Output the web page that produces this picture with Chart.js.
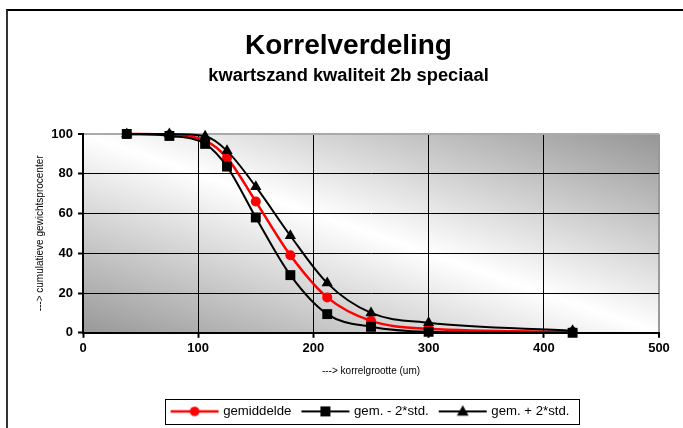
<!DOCTYPE html>
<html lang="nl">
<head>
<meta charset="UTF-8">
<title>Korrelverdeling</title>
<script src="https://cdn.jsdelivr.net/npm/chart.js"></script>
<style>
  body { margin: 0; width: 683px; height: 428px; overflow: hidden; background: #fff; }
  .frame { position: absolute; left: 6px; top: 9px; width: 720px; height: 460px; border-left: 2px solid #333; border-top: 2px solid #000; }
  .box { position: absolute; left: 7px; top: 10px; width: 683px; height: 418px; }
</style>
</head>
<body>
<div class="frame"></div>
<div class="box"><canvas id="chart"></canvas></div>
<script>
// korrelgrootte (um) and cumulative weight percentages
const korrel = [38, 75, 106, 125, 150, 180, 212, 250, 300, 425];
const gemiddelde = [100, 99.5, 96.7, 88, 66, 39, 17.8, 6, 2, 0.5];
const gemMin = [100, 99, 95, 83.6, 58, 29, 9.4, 3, 0.5, 0];
const gemPlus = [100, 100, 98.8, 91.5, 73.5, 48.8, 25, 10, 5, 1];
const xTicks = [0, 100, 200, 300, 400, 500];
const yTicks = [0, 20, 40, 60, 80, 100];
const labels = ['gemiddelde', 'gem. - 2*std.', 'gem. + 2*std.'];

const FONT = "'Liberation Sans', Arial, sans-serif";

function points(vals) {
  return korrel.map((k, i) => ({ x: k, y: vals[i] }));
}

// draw a marker on a 2d context
function marker(g, style, x, y, r, color) {
  g.fillStyle = color;
  g.beginPath();
  if (style === 'circle') {
    g.arc(x, y, r, 0, Math.PI * 2);
  } else if (style === 'rect') {
    g.rect(x - r, y - r, 2 * r, 2 * r);
  } else {
    g.moveTo(x, y - r * 1.1);
    g.lineTo(x + r * 1.05, y + r * 0.75);
    g.lineTo(x - r * 1.05, y + r * 0.75);
    g.closePath();
  }
  g.fill();
}

// small legend swatch: line with marker in the middle
function swatch(color, width, style, r) {
  const c = document.createElement('canvas');
  c.width = 50; c.height = 14;
  const g = c.getContext('2d');
  g.strokeStyle = color; g.lineWidth = width;
  g.beginPath(); g.moveTo(1, 7); g.lineTo(49, 7); g.stroke();
  marker(g, style, 25, 7, r, color);
  return c;
}

const swatches = [
  swatch('#ff0000', 2.5, 'circle', 4.8),
  swatch('#000000', 2, 'rect', 5),
  swatch('#000000', 2, 'triangle', 5.6)
];

const bgPlugin = {
  id: 'plotBg',
  beforeDraw(chart) {
    const { ctx, chartArea: a } = chart;
    const cx = (a.left + a.right) / 2, cy = (a.top + a.bottom) / 2;
    const w = a.right - a.left, h = a.bottom - a.top;
    const len = Math.hypot(w, h);
    const nx = -h / len, ny = w / len;
    const proj = Math.abs((-w / 2) * nx + (h / 2) * ny);
    const grad = ctx.createLinearGradient(cx + proj * nx, cy + proj * ny, cx - proj * nx, cy - proj * ny);
    grad.addColorStop(0, '#989898');
    grad.addColorStop(0.5, '#ffffff');
    grad.addColorStop(1, '#959595');
    ctx.save();
    ctx.fillStyle = grad;
    ctx.fillRect(a.left, a.top, w, h);
    ctx.restore();
  },
  afterDraw(chart) {
    const boxes = chart.legend.legendHitBoxes;
    if (!boxes || !boxes.length) return;
    const first = boxes[0], last = boxes[boxes.length - 1];
    const ctx = chart.ctx;
    ctx.save();
    ctx.strokeStyle = '#000';
    ctx.lineWidth = 1;
    const l = Math.round(first.left - 8) + 0.5;
    const r = Math.round(last.left + last.width + 10) + 0.5;
    const t = Math.round(first.top - 6) + 0.5;
    const b = Math.round(first.top + first.height + 6) + 0.5;
    ctx.strokeRect(l, t, r - l, b - t);
    ctx.restore();
  }
};

const ctx = document.getElementById('chart').getContext('2d');
new Chart(ctx, {
  type: 'line',
  data: {
    datasets: [
      {
        label: labels[0], data: points(gemiddelde), order: 2,
        borderColor: '#ff0000', backgroundColor: '#ff0000', borderWidth: 2.5,
        pointStyle: 'circle', pointRadius: 5, pointBorderWidth: 0,
        cubicInterpolationMode: 'monotone', clip: false
      },
      {
        label: labels[1], data: points(gemMin), order: 1,
        borderColor: '#000', backgroundColor: '#000', borderWidth: 2,
        pointStyle: 'rect', pointRadius: 7, pointBorderWidth: 0,
        cubicInterpolationMode: 'monotone', clip: false
      },
      {
        label: labels[2], data: points(gemPlus), order: 0,
        borderColor: '#000', backgroundColor: '#000', borderWidth: 2,
        pointStyle: 'triangle', pointRadius: 6.5, pointBorderWidth: 0,
        cubicInterpolationMode: 'monotone', clip: false
      }
    ]
  },
  options: {
    responsive: true,
    maintainAspectRatio: false,
    animation: false,
    layout: { padding: 0 },
    plugins: {
      title: {
        display: true, text: 'Korrelverdeling', color: '#000',
        font: { family: FONT, size: 28, weight: 'bold' },
        padding: { top: 19, bottom: 2 }
      },
      subtitle: {
        display: true, text: 'kwartszand kwaliteit 2b speciaal', color: '#000',
        font: { family: FONT, size: 18.3, weight: 'bold' },
        padding: { top: 0, bottom: 47.4 }
      },
      legend: {
        position: 'bottom',
        fullSize: false,
        labels: {
          usePointStyle: true,
          pointStyleWidth: 44,
          boxHeight: 13.2,
          padding: 12,
          color: '#000',
          font: { family: FONT, size: 13.2 },
          generateLabels: () => labels.map((t, i) => ({
            text: t, pointStyle: swatches[i], fontColor: '#000',
            strokeStyle: 'transparent', fillStyle: 'transparent', lineWidth: 0, datasetIndex: i
          }))
        }
      },
      tooltip: { enabled: false }
    },
    scales: {
      x: {
        type: 'linear', min: 0, max: 500,
        afterBuildTicks: s => { s.ticks = xTicks.map(v => ({ value: v })); },
        afterFit: s => { s.height = 60; },
        ticks: { color: '#000', padding: 3, font: { family: FONT, size: 13, weight: 'bold' } },
        grid: {
          color: c => (c.tick && c.tick.value === 500 ? '#999' : '#000'),
          lineWidth: c => (c.tick && c.tick.value === 500 ? 2 : 1),
          tickColor: '#000', tickLength: 5, tickWidth: 2
        },
        border: { color: '#000', width: 2 },
        title: {
          display: true, text: '---> korrelgrootte (um)', color: '#000',
          font: { family: FONT, size: 10 }, padding: { top: 0, bottom: 16 }
        }
      },
      y: {
        min: 0, max: 100,
        afterBuildTicks: s => { s.ticks = yTicks.map(v => ({ value: v })); },
        afterFit: s => { s.width = 76; },
        ticks: { color: '#000', padding: 5, font: { family: FONT, size: 13, weight: 'bold' } },
        grid: {
          color: c => (c.tick && c.tick.value === 100 ? '#aaa' : '#000'),
          lineWidth: c => (c.tick && c.tick.value === 100 ? 2 : 1),
          tickColor: '#000', tickLength: 5, tickWidth: 2
        },
        border: { color: '#000', width: 2 },
        title: {
          display: true, text: '---> cumulatieve gewichtsprocenter', color: '#000',
          font: { family: FONT, size: 10 }, padding: { top: 27, bottom: 0 }
        }
      },
      // empty spacer on the right so the plot ends where the original does
      spacer: {
        position: 'right', display: true,
        afterFit: s => { s.width = 31; },
        ticks: { display: false },
        grid: { display: false, drawTicks: false },
        border: { display: false }
      }
    }
  },
  plugins: [bgPlugin]
});
</script>
</body>
</html>
